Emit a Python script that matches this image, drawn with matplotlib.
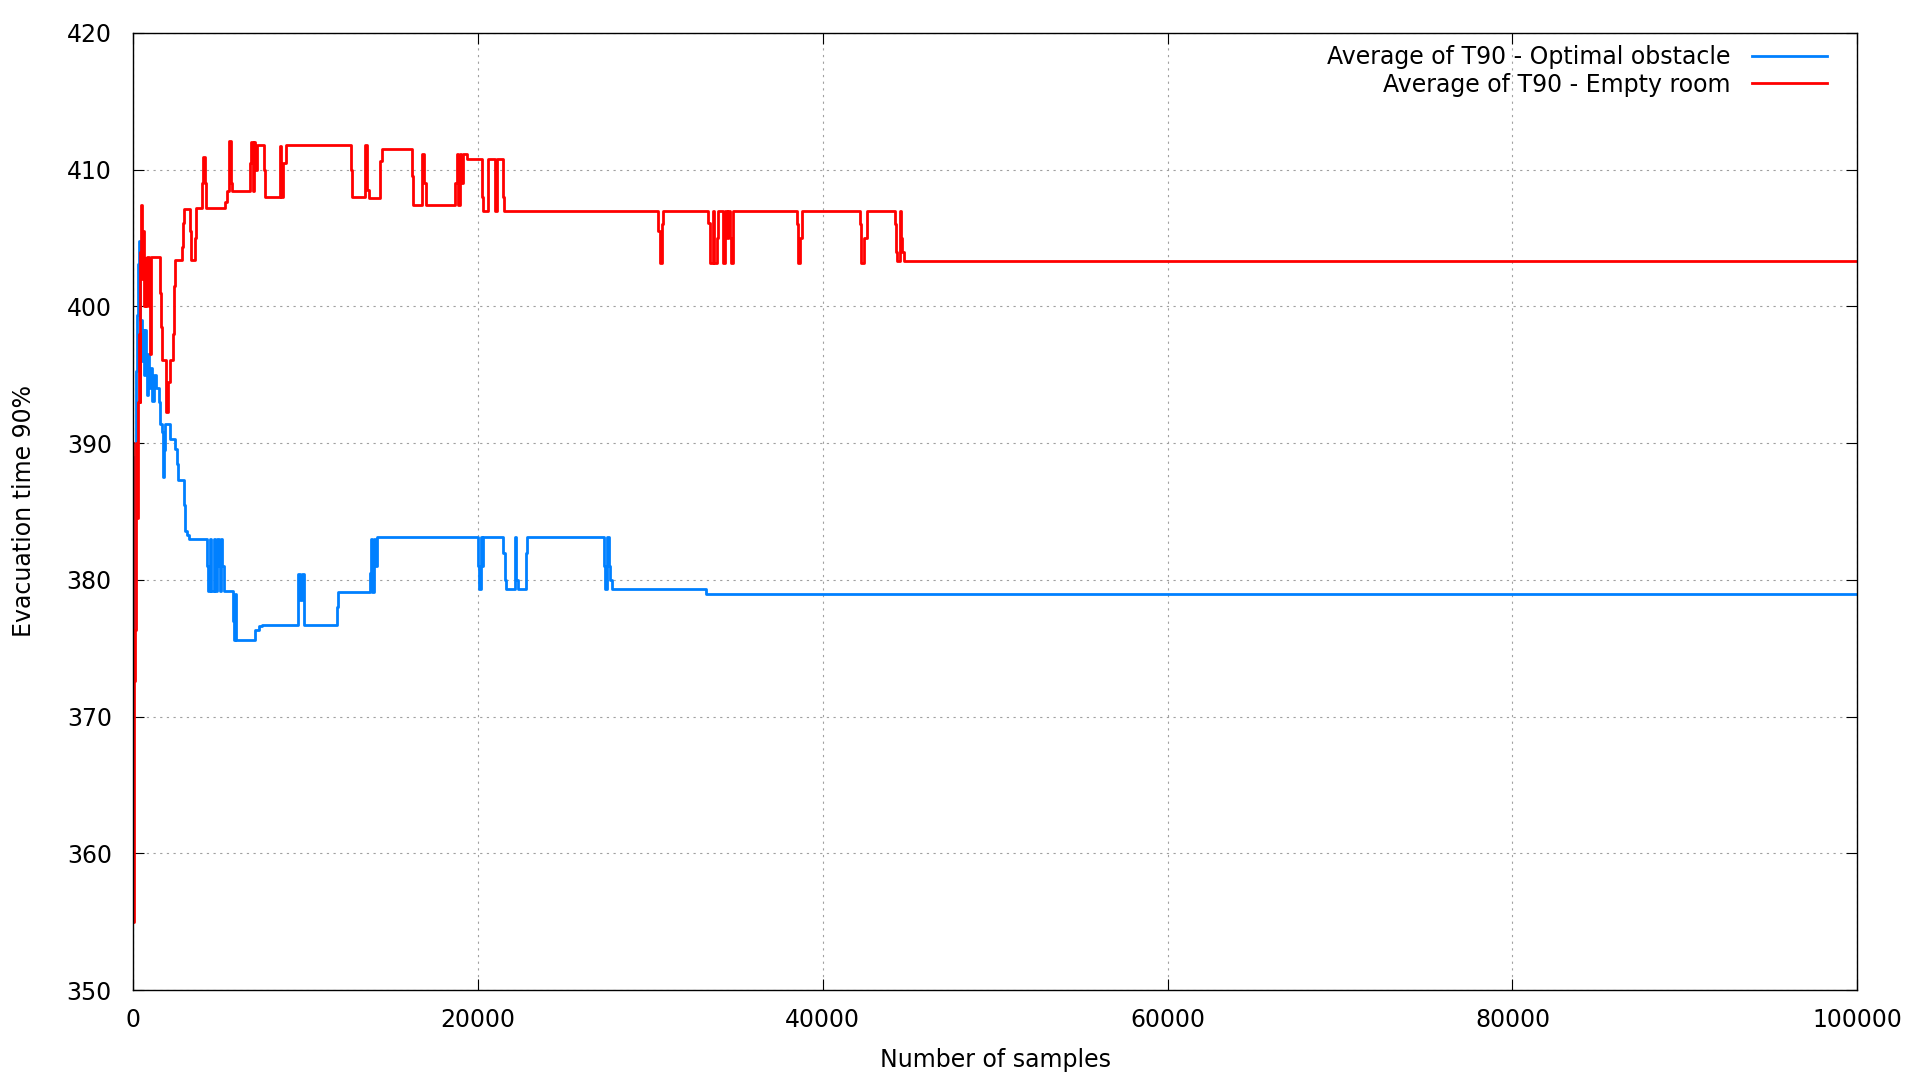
# T90 evacuation time vs number of samples
import numpy as np
import matplotlib.pyplot as plt

# step breakpoints (sample count, average T90)
obstacle_x = [0, 40, 90, 130, 180, 240, 300, 380, 440, 520, 580, 640, 700, 770, 830,
              900, 960, 1030, 1120, 1220, 1350, 1500, 1570, 1680, 1750, 1830, 1900,
              2150, 2190, 2480, 2550, 2610, 3000, 3060, 3150, 3290, 4310, 4380, 4500,
              4560, 4700, 4780, 4900, 4980, 5050, 5100, 5200, 5280, 5800, 5870, 5950,
              6000, 7110, 7300, 7500, 9580, 9700, 9800, 9910, 11840, 11900, 13770,
              13820, 13900, 13980, 14050, 14160, 20050, 20100, 20200, 20250, 20340,
              21500, 21580, 21660, 22180, 22250, 22370, 22820, 22880, 27300, 27370,
              27490, 27600, 27680, 27780, 33240, 100000]
obstacle_t90 = [373.7, 376.0, 389.0, 385.0, 395.3, 399.4, 403.1, 404.8, 399.0, 396.0,
                398.3, 395.0, 398.3, 396.0, 393.5, 396.5, 394.0, 395.5, 393.1, 395.0,
                394.0, 393.0, 391.4, 390.8, 387.5, 389.5, 391.4, 390.9, 390.3, 389.6,
                388.5, 387.3, 385.5, 383.6, 383.3, 383.0, 381.0, 379.2, 383.0, 379.2,
                383.0, 379.2, 383.0, 381.0, 379.2, 383.0, 381.0, 379.2, 377.0, 375.6,
                379.0, 375.6, 376.3, 376.6, 376.7, 380.4, 378.5, 380.4, 376.7, 378.0,
                379.1, 380.5, 383.0, 379.1, 383.0, 381.0, 383.1, 381.0, 379.3, 383.1,
                381.0, 383.1, 382.0, 380.0, 379.3, 383.1, 380.0, 379.3, 382.0, 383.1,
                381.0, 379.3, 383.1, 381.0, 380.0, 379.3, 379.0, 379.0]

empty_x = [0, 30, 90, 140, 190, 240, 290, 350, 400, 450, 510, 560, 610, 660, 720, 780,
           850, 920, 980, 1050, 1560, 1640, 1700, 1950, 2050, 2150, 2320, 2400, 2480,
           2860, 2920, 2960, 3350, 3400, 3600, 3690, 4020, 4080, 4200, 4270, 5370,
           5450, 5570, 5680, 5760, 6780, 6850, 6950, 7020, 7100, 7200, 7590, 7680,
           8520, 8620, 8700, 8890, 12650, 12730, 13480, 13600, 13680, 14350, 14450,
           16180, 16250, 16770, 16900, 17020, 18700, 18780, 18850, 18950, 19050, 19150,
           19400, 20250, 20300, 20630, 21020, 21150, 21460, 21550, 30450, 30550, 30700,
           30770, 33380, 33450, 33650, 33720, 33900, 33960, 34250, 34340, 34440, 34520,
           34630, 34700, 34800, 38500, 38600, 38700, 38790, 42170, 42250, 42400, 42550,
           44200, 44260, 44330, 44500, 44560, 44620, 44700, 100000]
empty_t90 = [390.0, 355.0, 372.6, 376.3, 390.0, 384.5, 393.0, 398.0, 393.0, 404.0,
             407.4, 402.0, 405.5, 400.0, 403.5, 400.0, 403.6, 400.0, 396.5, 403.6,
             401.0, 398.5, 396.1, 392.3, 394.5, 396.1, 398.0, 401.5, 403.4, 404.3,
             406.1, 407.1, 405.5, 403.4, 405.0, 407.2, 409.0, 410.9, 409.0, 407.2,
             407.6, 408.4, 412.1, 409.0, 408.4, 410.5, 412.0, 408.4, 412.0, 410.0,
             411.8, 410.0, 408.0, 411.7, 408.0, 410.5, 411.8, 410.0, 408.0, 411.8,
             408.5, 407.9, 410.6, 411.5, 409.5, 407.4, 411.1, 409.0, 407.4, 409.0,
             411.1, 407.4, 411.1, 409.0, 411.1, 410.8, 408.0, 407.0, 410.8, 407.0,
             410.8, 408.0, 407.0, 405.5, 403.2, 406.0, 407.0, 406.1, 403.2, 407.0,
             403.2, 405.0, 407.0, 403.2, 407.0, 405.0, 407.0, 405.0, 403.2, 407.0,
             406.0, 403.2, 405.0, 407.0, 406.0, 403.2, 405.0, 407.0, 406.0, 404.0,
             403.3, 407.0, 405.0, 404.0, 403.3, 403.3]

labels = ['Average of T90 - Optimal obstacle', 'Average of T90 - Empty room']

plt.rcParams['font.family'] = 'DejaVu Sans'
plt.rcParams['font.size'] = 17

fig = plt.figure(figsize=(19.2, 10.8), dpi=100)
ax = fig.add_axes([0.0691, 0.0831, 0.8983, 0.8866])

ax.step(obstacle_x, obstacle_t90, where='post', color='#0080ff', lw=2, label=labels[0])
ax.step(empty_x, empty_t90, where='post', color='#ff0000', lw=2, label=labels[1])

ax.set_xlim(0, 100000)
ax.set_ylim(350, 420)
ax.set_xticks(np.arange(0, 100001, 20000))
ax.set_yticks(np.arange(350, 421, 10))
ax.grid(True, color='#a0a0a0', linestyle=(0, (2, 4)), lw=0.8)
ax.tick_params(direction='in', length=8, width=0.8, top=True, right=True, labelsize=17)
ax.tick_params(axis='x', pad=13)
ax.tick_params(axis='y', pad=15)
for s in ax.spines.values():
    s.set_linewidth(1.0)

ax.set_xlabel('Number of samples', labelpad=11)
ax.set_ylabel('Evacuation time 90%', labelpad=22)

ax.legend(loc='upper right', bbox_to_anchor=(0.9825, 0.987), frameon=False,
          markerfirst=False, borderaxespad=0, borderpad=0, handlelength=3.2,
          handletextpad=0.9, labelspacing=0.15)

plt.savefig('out.png', dpi=100)
